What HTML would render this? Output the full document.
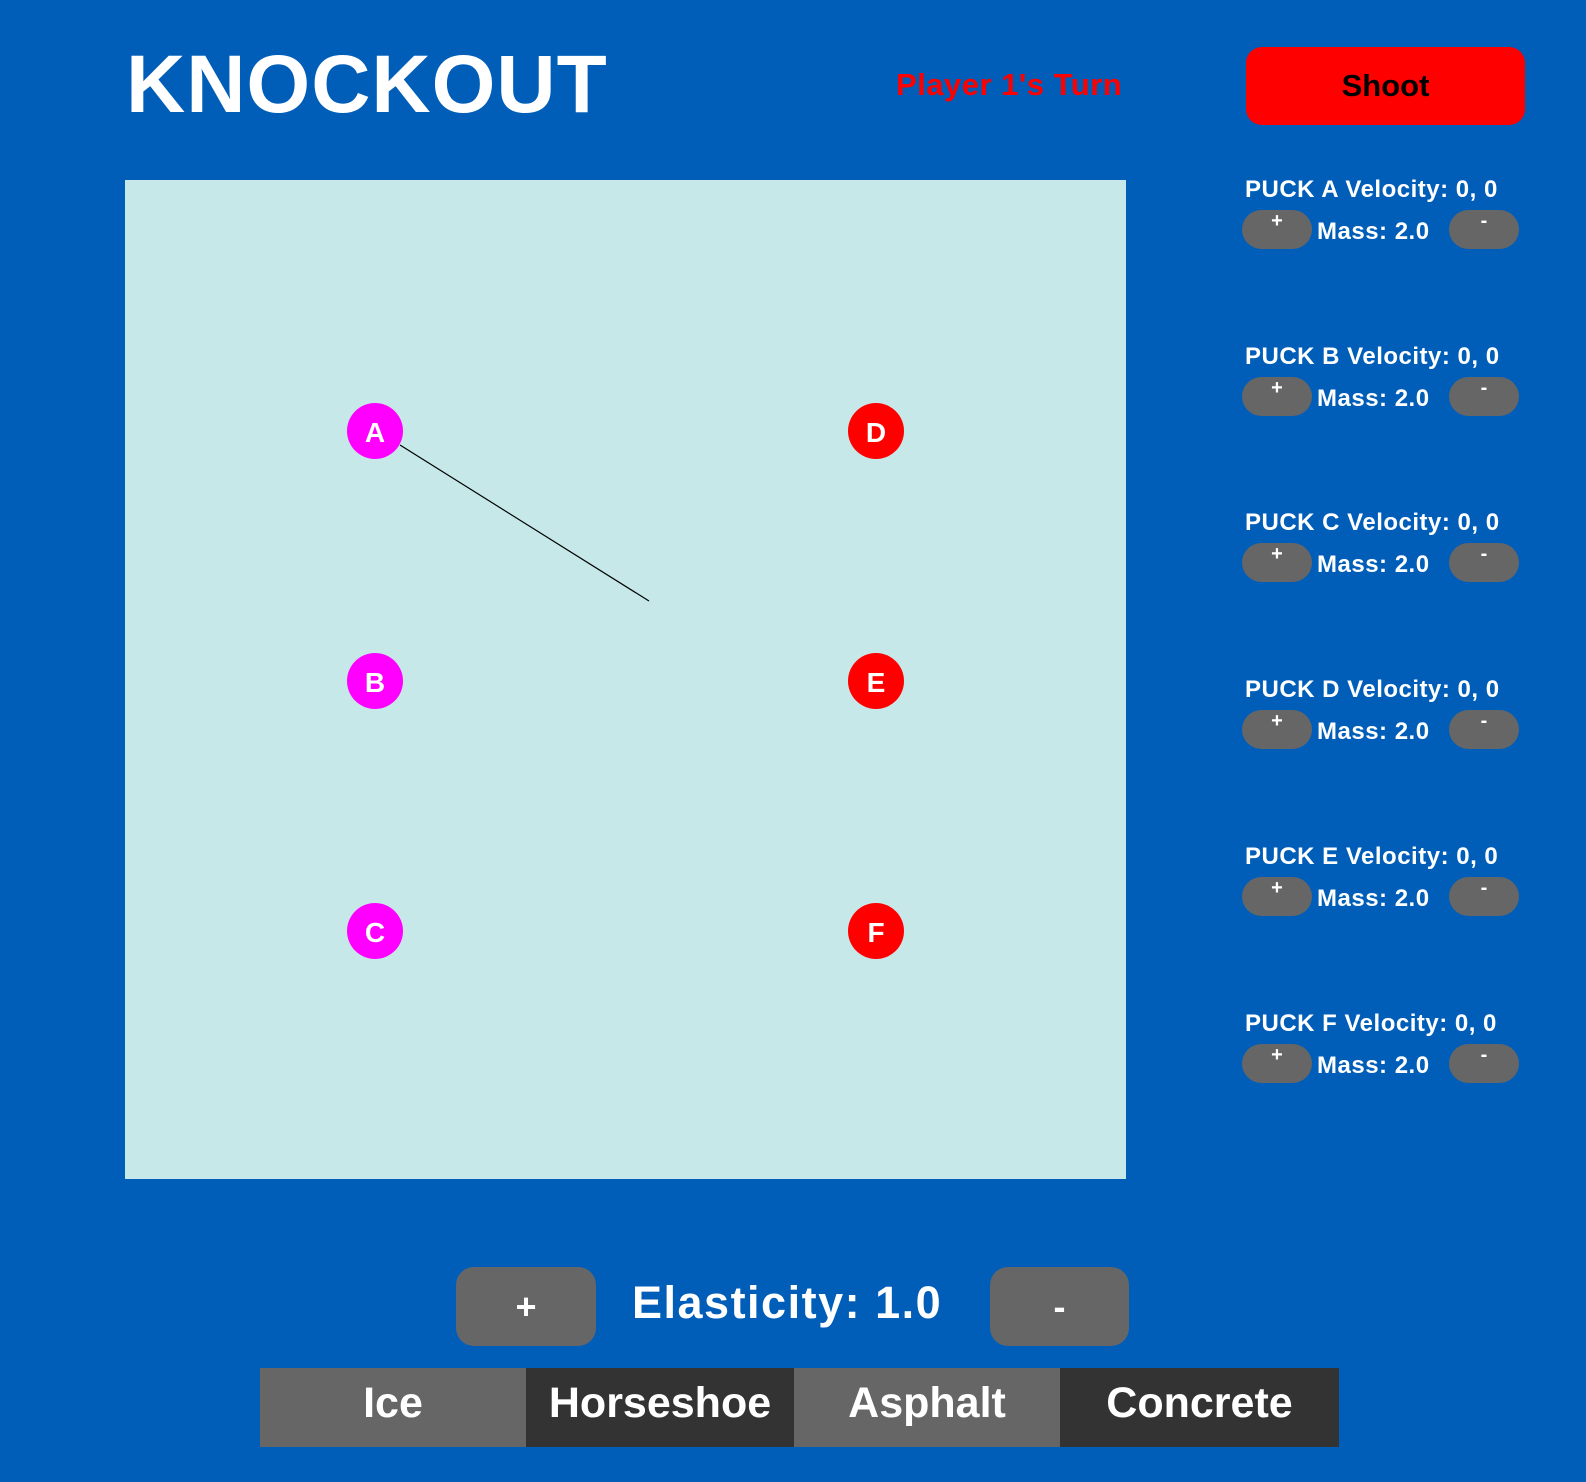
<!DOCTYPE html>
<html><head><meta charset="utf-8"><style>
body{margin:0;width:1586px;height:1482px;background:#005eb8;position:relative;overflow:hidden;font-family:"Liberation Sans",sans-serif;font-weight:bold;color:#fff}
.a{position:absolute}
.btn{position:absolute;background:#666;border-radius:18px;display:flex;align-items:center;justify-content:center;color:#fff}
.tab{position:absolute;top:1368px;height:79px;display:flex;align-items:center;justify-content:center;font-size:43px;color:#fff;padding-bottom:8px;box-sizing:border-box}
.vel{position:absolute;left:1245px;font-size:24px;letter-spacing:0.5px;white-space:nowrap}
.mass{position:absolute;left:1317px;font-size:24px;letter-spacing:0.5px}
.sb{position:absolute;width:70px;height:39px;background:#666;border-radius:20px;color:#fff;font-size:20px;display:flex;justify-content:center;align-items:flex-start;padding-top:0;box-sizing:border-box}
</style></head><body>
<div class="a" style="left:126px;top:38px;font-size:82px;letter-spacing:1px">KNOCKOUT</div>
<div class="a" style="left:896px;top:67px;font-size:31px;color:#ff0000;letter-spacing:0.5px">Player 1's Turn</div>
<div class="btn" style="left:1246px;top:47px;width:279px;height:78px;background:#ff0000;border-radius:16px;color:#000;font-size:31px">Shoot</div>
<svg class="a" style="left:125px;top:180px" width="1001" height="999">
<rect width="1001" height="999" fill="#c6e8e8"/>
<line x1="275" y1="265" x2="524" y2="421" stroke="#000" stroke-width="1.2"/>
<g font-family="Liberation Sans,sans-serif" font-weight="bold" font-size="28" fill="#fff" text-anchor="middle">
<g><circle cx="250" cy="251" r="28" fill="#ff00ff"/><text x="250" y="262">A</text></g>
<g><circle cx="250" cy="501" r="28" fill="#ff00ff"/><text x="250" y="512">B</text></g>
<g><circle cx="250" cy="751" r="28" fill="#ff00ff"/><text x="250" y="762">C</text></g>
<g><circle cx="751" cy="251" r="28" fill="#ff0000"/><text x="751" y="262">D</text></g>
<g><circle cx="751" cy="501" r="28" fill="#ff0000"/><text x="751" y="512">E</text></g>
<g><circle cx="751" cy="751" r="28" fill="#ff0000"/><text x="751" y="762">F</text></g>
</g></svg>
<div id="panel"></div>
<script>
var pucks=['A','B','C','D','E','F'];
var panel=document.getElementById('panel');
pucks.forEach(function(p,i){
var y=176+i*166.7;
var v=document.createElement('div');v.className='vel';v.style.top=y+'px';v.textContent='PUCK '+p+' Velocity: 0, 0';


panel.appendChild(v);
var b1=document.createElement('div');b1.className='sb';b1.style.left='1242px';b1.style.top=(y+34)+'px';b1.textContent='+';


panel.appendChild(b1);
var m=document.createElement('div');m.className='mass';m.style.top=(y+42)+'px';m.textContent='Mass: 2.0';


panel.appendChild(m);
var b2=document.createElement('div');b2.className='sb';b2.style.left='1449px';b2.style.top=(y+34)+'px';b2.textContent='-';


panel.appendChild(b2);
});
</script>
<div class="btn" style="left:456px;top:1267px;width:140px;height:79px;font-size:36px">+</div>
<div class="a" style="left:632px;top:1277px;font-size:45px;letter-spacing:1.5px">Elasticity: 1.0</div>
<div class="btn" style="left:990px;top:1267px;width:139px;height:79px;font-size:36px">-</div>
<div class="tab" style="left:260px;width:266px;background:#666">Ice</div>
<div class="tab" style="left:526px;width:268px;background:#333">Horseshoe</div>
<div class="tab" style="left:794px;width:266px;background:#666">Asphalt</div>
<div class="tab" style="left:1060px;width:279px;background:#333">Concrete</div>
</body></html>
